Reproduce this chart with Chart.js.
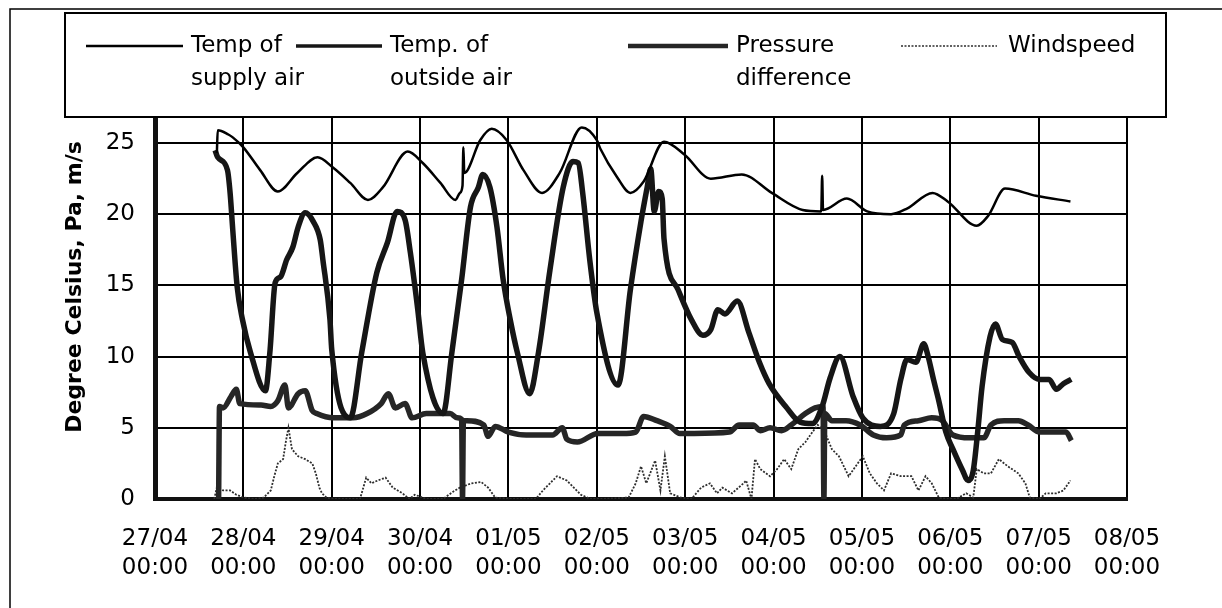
<!DOCTYPE html>
<html lang="en">
<head>
    <meta charset="UTF-8">
    <title>Supply air, outside air, pressure difference and windspeed</title>
    <style>
        html, body {
            margin: 0;
            padding: 0;
            background-color: #fff;
        }
        #wrap {
            width: 1222px;
            height: 608px;
        }
    </style>
    <script src="https://cdn.jsdelivr.net/npm/chart.js"></script>
</head>
<body>
    <div id="wrap">
        <canvas id="chart" width="1222" height="608"></canvas>
    </div>
    <script>
        // x values are days since 27/04 00:00
        const dayLabels = ['27/04', '28/04', '29/04', '30/04', '01/05', '02/05',
                           '03/05', '04/05', '05/05', '06/05', '07/05', '08/05'];
        const timeLabel = '00:00';
        const yTicks = [0, 5, 10, 15, 20, 25];

        const seriesNames = ['Temp of\nsupply air', 'Temp. of\noutside air',
                             'Pressure\ndifference', 'Windspeed'];

        const supplyT = [0.70, 0.71, 0.83, 0.88, 1.00, 1.19, 1.39, 1.61, 1.84, 2.01, 2.21, 2.41,
                         2.58, 2.86, 3.03, 3.23, 3.40, 3.45, 3.48, 3.49, 3.50, 3.68, 3.81, 3.98,
                         4.17, 4.38, 4.58, 4.83, 5.00, 5.04, 5.23, 5.38, 5.53, 5.76, 5.99, 6.29,
                         6.64, 6.98, 7.33, 7.54, 7.55, 7.56, 7.83, 8.06, 8.33, 8.51, 8.80, 8.97,
                         9.30, 9.43, 9.62, 9.97, 10.36];
        const supplyV = [24.3, 25.9, 25.6, 25.4, 24.7, 23.1, 21.6, 22.9, 24.0, 23.3, 22.2, 21.0,
                         21.9, 24.4, 23.6, 22.2, 21.0, 21.5, 22.0, 24.7, 22.9, 25.2, 26.0, 25.2,
                         23.1, 21.5, 22.9, 26.1, 25.2, 24.6, 22.6, 21.5, 22.3, 25.1, 24.2, 22.5,
                         22.8, 21.5, 20.3, 20.2, 22.7, 20.3, 21.1, 20.2, 20.0, 20.4, 21.5, 20.9,
                         19.2, 19.9, 21.8, 21.3, 20.9];

        const outsideT = [0.68, 0.71, 0.82, 0.85, 0.88, 0.93, 0.99, 1.08, 1.25, 1.30, 1.36, 1.42,
                          1.49, 1.56, 1.62, 1.70, 1.79, 1.87, 1.90, 1.98, 2.00, 2.21, 2.34, 2.51,
                          2.63, 2.74, 2.83, 2.89, 2.97, 3.03, 3.26, 3.36, 3.47, 3.57, 3.66, 3.71,
                          3.79, 3.87, 3.94, 4.02, 4.10, 4.24, 4.34, 4.47, 4.62, 4.73, 4.79, 4.84,
                          4.92, 5.00, 5.24, 5.38, 5.50, 5.57, 5.61, 5.65, 5.70, 5.74, 5.76, 5.92,
                          6.07, 6.20, 6.29, 6.37, 6.45, 6.59, 6.72, 6.84, 6.95, 7.15, 7.30, 7.44,
                          7.55, 7.64, 7.75, 7.90, 8.01, 8.21, 8.36, 8.44, 8.51, 8.61, 8.70, 8.75,
                          8.81, 8.87, 8.95, 9.03, 9.14, 9.20, 9.26, 9.31, 9.36, 9.45, 9.51, 9.59,
                          9.70, 9.78, 9.89, 10.01, 10.12, 10.20, 10.28, 10.37];
        const outsideV = [24.5, 24.0, 23.1, 21.5, 18.9, 14.9, 12.6, 10.3, 7.6, 10.3, 15.2, 15.6,
                          16.8, 17.7, 19.1, 20.1, 19.5, 18.2, 16.8, 12.6, 10.5, 5.7, 10.3, 15.9,
                          18.0, 20.2, 19.6, 17.3, 13.5, 10.3, 6.0, 10.3, 15.4, 20.5, 21.9, 22.8,
                          21.9, 19.1, 15.4, 12.6, 10.3, 7.4, 10.3, 16.1, 21.9, 23.7, 23.6, 21.5,
                          16.8, 13.1, 8.0, 14.7, 19.5, 21.9, 23.2, 20.2, 21.6, 21.1, 18.3, 14.7,
                          12.6, 11.5, 11.9, 13.3, 13.0, 13.9, 11.7, 9.6, 8.1, 6.4, 5.4, 5.3,
                          6.5, 8.5, 10.0, 7.2, 5.7, 5.1, 6.0, 8.4, 9.8, 9.6, 10.9, 10.0,
                          8.4, 6.9, 4.7, 3.5, 2.0, 1.3, 2.0, 4.7, 7.9, 11.4, 12.3, 11.2,
                          11.0, 10.0, 8.9, 8.4, 8.4, 7.7, 8.1, 8.4];

        const pressureT = [0.72, 0.73, 0.77, 0.86, 0.92, 0.96, 1.20, 1.31, 1.39, 1.47, 1.51, 1.62,
                           1.70, 1.78, 1.83, 2.02, 2.24, 2.40, 2.56, 2.64, 2.72, 2.83, 2.91, 3.07,
                           3.34, 3.42, 3.47, 3.48, 3.49, 3.53, 3.72, 3.77, 3.85, 4.00, 4.20, 4.50,
                           4.61, 4.66, 4.78, 5.01, 5.29, 5.44, 5.53, 5.68, 5.83, 5.94, 6.10, 6.50,
                           6.61, 6.77, 6.85, 6.96, 7.09, 7.20, 7.36, 7.47, 7.56, 7.57, 7.58, 7.66,
                           7.82, 7.98, 8.13, 8.28, 8.44, 8.48, 8.64, 8.79, 8.91, 9.03, 9.22, 9.38,
                           9.46, 9.61, 9.77, 9.88, 10.01, 10.31, 10.37];
        const pressureV = [0.0, 6.5, 6.4, 7.2, 7.7, 6.7, 6.6, 6.5, 6.9, 8.0, 6.4, 7.4,
                           7.6, 6.2, 6.0, 5.7, 5.7, 6.0, 6.7, 7.4, 6.4, 6.7, 5.7, 6.0,
                           6.0, 5.7, 5.6, 0.0, 5.5, 5.5, 5.2, 4.4, 5.1, 4.7, 4.5, 4.5,
                           5.0, 4.2, 4.0, 4.6, 4.6, 4.7, 5.8, 5.5, 5.1, 4.6, 4.6, 4.7,
                           5.2, 5.2, 4.8, 5.0, 4.8, 5.2, 6.0, 6.4, 6.5, 0.0, 6.0, 5.5,
                           5.5, 5.2, 4.5, 4.3, 4.5, 5.2, 5.5, 5.7, 5.5, 4.5, 4.3, 4.3,
                           5.2, 5.5, 5.5, 5.2, 4.7, 4.7, 4.1];

        const windT = [0.67, 0.70, 0.77, 0.85, 0.92, 1.00, 1.12, 1.23, 1.31, 1.35, 1.39, 1.45,
                       1.48, 1.51, 1.55, 1.62, 1.70, 1.78, 1.82, 1.86, 1.89, 1.94, 2.02, 2.32,
                       2.39, 2.45, 2.52, 2.61, 2.69, 2.80, 2.88, 2.94, 3.07, 3.26, 3.37, 3.45,
                       3.58, 3.69, 3.77, 3.85, 4.04, 4.31, 4.39, 4.47, 4.55, 4.66, 4.74, 4.82,
                       4.93, 5.05, 5.36, 5.44, 5.50, 5.56, 5.66, 5.72, 5.77, 5.83, 5.95, 6.07,
                       6.18, 6.28, 6.36, 6.42, 6.53, 6.66, 6.69, 6.75, 6.79, 6.85, 6.96, 7.04,
                       7.12, 7.20, 7.28, 7.36, 7.44, 7.50, 7.58, 7.66, 7.74, 7.85, 7.93, 8.01,
                       8.09, 8.17, 8.25, 8.33, 8.44, 8.56, 8.64, 8.72, 8.79, 8.87, 8.95, 9.07,
                       9.18, 9.26, 9.30, 9.38, 9.46, 9.55, 9.65, 9.77, 9.85, 9.90, 10.01, 10.08,
                       10.20, 10.28, 10.36];
        const windV = [0.0, 0.8, 0.6, 0.6, 0.3, 0.1, 0.0, 0.1, 0.6, 1.6, 2.5, 2.8,
                       4.0, 5.0, 3.5, 3.0, 2.8, 2.5, 1.8, 0.8, 0.4, 0.1, 0.0, 0.0,
                       1.5, 1.1, 1.3, 1.5, 0.8, 0.4, 0.0, 0.3, 0.0, 0.0, 0.5, 0.8,
                       1.1, 1.2, 0.8, 0.1, 0.0, 0.0, 0.6, 1.1, 1.6, 1.3, 0.8, 0.3,
                       0.0, 0.0, 0.1, 1.1, 2.3, 1.1, 2.7, 0.6, 3.0, 0.4, 0.1, 0.0,
                       0.8, 1.1, 0.4, 0.8, 0.4, 1.1, 1.3, 0.0, 2.8, 2.1, 1.6, 2.1,
                       2.8, 2.1, 3.5, 4.0, 4.7, 5.2, 4.7, 3.5, 3.0, 1.6, 2.3, 3.0,
                       1.8, 1.1, 0.6, 1.8, 1.6, 1.6, 0.6, 1.6, 1.1, 0.1, 0.0, 0.0,
                       0.4, 0.1, 2.1, 1.8, 1.8, 2.8, 2.3, 1.8, 1.1, 0.1, 0.0, 0.4,
                       0.4, 0.6, 1.3];

        const toPoints = (ts, vs) => ts.map((t, i) => ({ x: t, y: vs[i] }));

        const FONT = '"DejaVu Sans", sans-serif';

        // where each legend sample and its text go
        const legendSlots = [
            { x0: 86, x1: 183, tx: 191 },
            { x0: 296, x1: 382, tx: 390 },
            { x0: 628, x1: 728, tx: 736 },
            { x0: 901, x1: 997, tx: 1008 }
        ];

        const framePlugin = {
            id: 'frame',
            beforeDraw(chart) {
                const ctx = chart.ctx;
                ctx.save();
                ctx.fillStyle = '#fff';
                ctx.fillRect(0, 0, chart.width, chart.height);
                ctx.strokeStyle = '#000';
                ctx.lineWidth = 1.5;
                ctx.strokeRect(10, 9, chart.width + 50, chart.height + 50);
                ctx.restore();
            },
            afterDraw(chart) {
                const ctx = chart.ctx;
                ctx.save();
                // legend box
                ctx.fillStyle = '#fff';
                ctx.fillRect(65, 13, 1101, 104);
                ctx.strokeStyle = '#000';
                ctx.lineWidth = 2;
                ctx.strokeRect(65, 13, 1101, 104);

                ctx.font = '23px ' + FONT;
                ctx.textBaseline = 'middle';
                ctx.textAlign = 'left';
                chart.data.datasets.forEach((ds, i) => {
                    const slot = legendSlots[i];
                    ctx.save();
                    ctx.strokeStyle = ds.borderColor;
                    ctx.lineWidth = ds.legendWidth;
                    ctx.setLineDash(ds.borderDash || []);
                    ctx.beginPath();
                    ctx.moveTo(slot.x0, 46);
                    ctx.lineTo(slot.x1, 46);
                    ctx.stroke();
                    ctx.restore();
                    ctx.fillStyle = '#000';
                    ds.label.split('\n').forEach((line, j) => {
                        ctx.fillText(line, slot.tx, 46 + j * 33);
                    });
                });

                // y axis title
                ctx.translate(75, 287);
                ctx.rotate(-Math.PI / 2);
                ctx.textAlign = 'center';
                ctx.font = 'bold 22px ' + FONT;
                ctx.fillText('Degree Celsius, Pa, m/s', 0, 0);
                ctx.restore();
            }
        };

        new Chart(document.getElementById('chart'), {
            type: 'line',
            data: {
                datasets: [
                    {
                        label: seriesNames[0],
                        data: toPoints(supplyT, supplyV),
                        borderColor: '#000',
                        borderWidth: 2.5,
                        legendWidth: 2.5,
                        cubicInterpolationMode: 'monotone'
                    },
                    {
                        label: seriesNames[1],
                        data: toPoints(outsideT, outsideV),
                        borderColor: '#161616',
                        borderWidth: 5.5,
                        legendWidth: 3.5,
                        cubicInterpolationMode: 'monotone'
                    },
                    {
                        label: seriesNames[2],
                        data: toPoints(pressureT, pressureV),
                        borderColor: '#262626',
                        borderWidth: 5.5,
                        legendWidth: 4.5,
                        cubicInterpolationMode: 'monotone'
                    },
                    {
                        label: seriesNames[3],
                        data: toPoints(windT, windV),
                        borderColor: '#2e2e2e',
                        borderWidth: 1.8,
                        legendWidth: 1.5,
                        borderDash: [2, 1.5]
                    }
                ]
            },
            options: {
                responsive: false,
                animation: false,
                elements: {
                    point: { radius: 0 },
                    line: { fill: false }
                },
                layout: {
                    padding: { left: 0, right: 95, top: 117, bottom: 0 }
                },
                plugins: {
                    legend: { display: false },
                    tooltip: { enabled: false }
                },
                scales: {
                    x: {
                        type: 'linear',
                        min: 0,
                        max: dayLabels.length - 1,
                        afterFit: s => { s.height = 109; },
                        afterBuildTicks: s => {
                            s.ticks = dayLabels.map((d, i) => ({ value: i }));
                        },
                        ticks: {
                            color: '#000',
                            padding: 25,
                            maxRotation: 0,
                            autoSkip: false,
                            font: { family: FONT, size: 23, lineHeight: 1.28 },
                            callback: v => [dayLabels[v], timeLabel]
                        },
                        grid: {
                            color: '#000',
                            lineWidth: 2,
                            drawTicks: false
                        },
                        border: { color: '#111', width: 4 }
                    },
                    y: {
                        min: 0,
                        max: 26.83,
                        afterFit: s => { s.width = 155; },
                        afterBuildTicks: s => {
                            s.ticks = yTicks.map(v => ({ value: v }));
                        },
                        ticks: {
                            color: '#000',
                            padding: 20,
                            font: { family: FONT, size: 23 }
                        },
                        grid: {
                            color: '#000',
                            lineWidth: 2,
                            drawTicks: false
                        },
                        border: { color: '#111', width: 5 }
                    }
                }
            },
            plugins: [framePlugin]
        });
    </script>
</body>
</html>
